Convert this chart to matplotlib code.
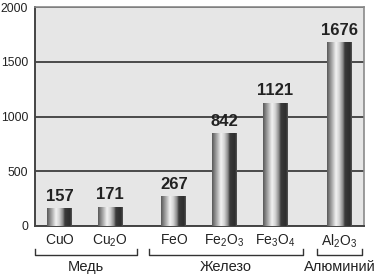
import numpy as np
import matplotlib
matplotlib.use("Agg")
import matplotlib.pyplot as plt
from matplotlib.colors import LinearSegmentedColormap
from matplotlib import transforms

plt.rcParams['font.family'] = ['Liberation Sans', 'DejaVu Sans']
plt.rcParams['mathtext.fontset'] = 'custom'
plt.rcParams['mathtext.rm'] = 'Liberation Sans'
plt.rcParams['mathtext.it'] = 'Liberation Sans'

# данные
labels = [r"$\mathrm{CuO}$", r"$\mathrm{Cu_2O}$", r"$\mathrm{FeO}$",
          r"$\mathrm{Fe_2O_3}$", r"$\mathrm{Fe_3O_4}$", r"$\mathrm{Al_2O_3}$"]
values = [157, 171, 267, 842, 1121, 1676]
groups = ["Медь", "Железо", "Алюминий"]
yticks = [0, 500, 1000, 1500, 2000]

# позиции столбцов (группы разнесены)
pos = [0, 1, 2.26, 3.26, 4.27, 5.53]
width = 0.49

fig = plt.figure(figsize=(3.78, 2.74), dpi=100)
ax = fig.add_axes([35 / 378, 1 - 226 / 274, 329 / 378, 219 / 274])
ax.set_facecolor('#e6e6e6')

# цилиндрическая заливка столбцов
cmap = LinearSegmentedColormap.from_list("cyl", [
    (0.0, '#5a5a5a'), (0.12, '#8c8c8c'), (0.36, '#f2f2f2'),
    (0.5, '#d2d2d2'), (0.64, '#8a8a8a'), (0.72, '#3a3a3a'),
    (0.93, '#2e2e2e'), (1.0, '#555555')])
grad = np.linspace(0, 1, 64).reshape(1, -1)
for x, v in zip(pos, values):
    ax.imshow(grad, cmap=cmap, aspect='auto', zorder=3,
              extent=[x - width / 2, x + width / 2, 0, v])
    ax.text(x, v + 45, str(v), ha='center', va='bottom', fontsize=12,
            fontweight='bold', color='#222222')

ax.set_xlim(-0.484, 6.02)
ax.set_ylim(0, 2000)
ax.set_yticks(yticks)
ax.set_yticklabels([str(t) for t in yticks], fontsize=8.8, color='#222222')
ax.set_xticks(pos)
ax.set_xticklabels(labels, fontsize=10, color='#222222')
ax.tick_params(length=0)
ax.tick_params(axis='y', pad=5)
ax.tick_params(axis='x', pad=5)

ax.yaxis.grid(True, color='#4a4a4a', lw=1.4)
ax.set_axisbelow(True)
for side in ['top', 'right']:
    ax.spines[side].set_color('#8a8a8a')
    ax.spines[side].set_linewidth(1.2)
for side in ['left', 'bottom']:
    ax.spines[side].set_color('#444444')
    ax.spines[side].set_linewidth(1.4)

# скобки групп
tr = transforms.blended_transform_factory(ax.transData, ax.transAxes)
spans = [(-0.48, pos[1] + 0.53), (pos[2] - 0.49, pos[4] + 0.54),
         (pos[5] - 0.44, pos[5] + 0.45)]
yb, yt = -0.132, -0.105
for (a, b), name in zip(spans, groups):
    ax.plot([a, a, b, b], [yt, yb, yb, yt], color='#333333', lw=1.0,
            transform=tr, clip_on=False)
    ax.text((a + b) / 2, -0.187, name, ha='center', va='center',
            fontsize=10.5, color='#222222', transform=tr)

fig.savefig('out.png', dpi=100)
